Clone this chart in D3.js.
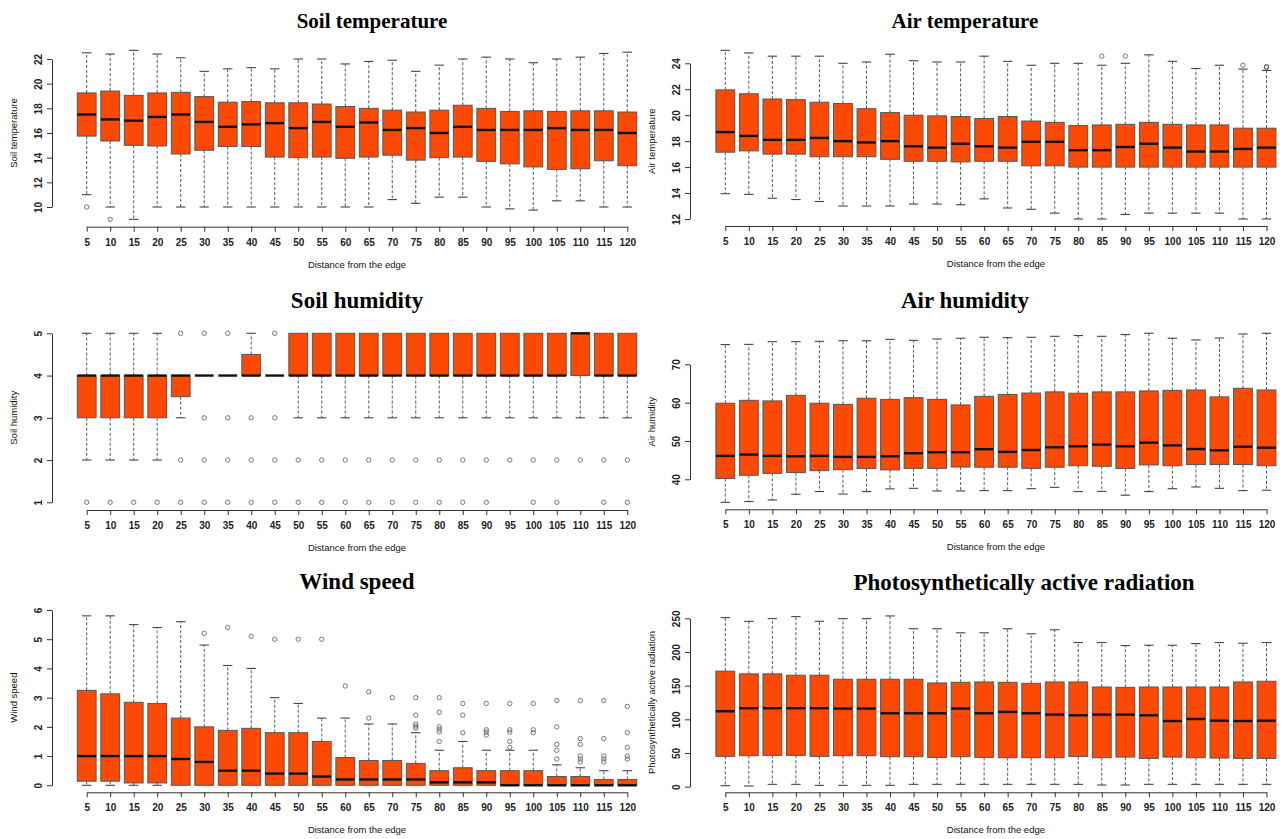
<!DOCTYPE html>
<html>
<head>
<meta charset="utf-8">
<script src="https://cdn.jsdelivr.net/npm/d3@7"></script>
<style>
  html, body { margin: 0; padding: 0; background: #fff; }
  svg { display: block; }
</style>
</head>
<body>
<svg id="chart" width="1282" height="839"></svg>
<script>
// ---------------- DATA ----------------
const categories = [5,10,15,20,25,30,35,40,45,50,55,60,65,70,75,80,85,90,95,100,105,110,115,120];

// each row: [lower whisker, Q1, median, Q3, upper whisker]
const soilTempBoxes = [
  [11.0,15.75,17.5,19.25,22.5],[10,15.35,17.1,19.4,22.4],[9,15.0,17.0,19.05,22.7],[10,14.95,17.3,19.25,22.4],
  [10,14.3,17.5,19.3,22.1],[10,14.6,16.9,18.95,21.0],[10,14.9,16.5,18.5,21.2],[10,14.9,16.7,18.55,21.3],
  [10,14.05,16.8,18.45,21.2],[10,14.0,16.4,18.45,22.0],[10,14.05,16.9,18.35,22.0],[10,13.95,16.5,18.15,21.6],
  [10,14.05,16.85,18.0,21.8],[10.6,14.2,16.25,17.85,21.9],[10.3,13.8,16.4,17.7,21.0],[10.8,14.0,16.0,17.85,21.5],
  [10.8,14.05,16.5,18.25,22.0],[10,13.7,16.25,18.0,22.15],[9.85,13.5,16.25,17.75,22.0],[9.75,13.25,16.25,17.8,21.7],
  [10.5,13.05,16.4,17.75,22.0],[10.5,13.1,16.25,17.8,22.15],[10,13.75,16.25,17.8,22.45],[10,13.35,16.0,17.7,22.55]
];
const soilTempOutliers = [[5,10],[10,9]];
const soilTempTicks = [10,12,14,16,18,20,22];

const airTempBoxes = [
  [13.95,17.15,18.7,21.95,25.0],[13.9,17.25,18.4,21.65,24.8],[13.6,17.0,18.1,21.25,24.55],[13.5,17.0,18.1,21.2,24.55],
  [13.35,16.8,18.25,21.0,24.55],[13.0,16.8,18.0,20.9,24.0],[13.0,16.8,17.9,20.5,24.1],[13.0,16.6,18.0,20.2,24.7],
  [13.15,16.45,17.6,20.0,24.2],[13.15,16.45,17.5,19.95,24.1],[13.1,16.4,17.8,19.9,24.1],[13.55,16.45,17.6,19.75,24.55],
  [12.85,16.45,17.5,19.9,24.15],[12.75,16.1,17.95,19.55,23.85],[12.45,16.1,17.95,19.45,24.0],[12.0,16.0,17.3,19.2,24.0],
  [12.0,16.0,17.3,19.25,23.85],[12.35,16.0,17.55,19.3,24.0],[12.45,16.0,17.8,19.45,24.65],[12.45,16.0,17.5,19.3,24.15],
  [12.45,16.0,17.2,19.25,23.6],[12.45,16.0,17.2,19.25,23.85],[12.0,16.0,17.4,19.0,23.55],[12.0,16.0,17.5,19.0,23.45]
];
const airTempOutliers = [[85,24.55],[90,24.55],[115,23.85],[120,23.75],[120,23.68]];
const airTempTicks = [12,14,16,18,20,22,24];

const soilHumBoxes = [
  [2,3,4,4,5],[2,3,4,4,5],[2,3,4,4,5],[2,3,4,4,5],
  [3,3.5,4,4,4],[4,4,4,4,4],[4,4,4,4,4],[4,4,4,4.5,5],
  [4,4,4,4,4],[3,4,4,5,5],[3,4,4,5,5],[3,4,4,5,5],
  [3,4,4,5,5],[3,4,4,5,5],[3,4,4,5,5],[3,4,4,5,5],
  [3,4,4,5,5],[3,4,4,5,5],[3,4,4,5,5],[3,4,4,5,5],
  [3,4,4,5,5],[3,4,5,5,5],[3,4,4,5,5],[3,4,4,5,5]
];
const soilHumOutliers = [
  [5,1],[10,1],[15,1],[20,1],
  [25,5],[25,2],[25,1],
  [30,5],[30,3],[30,2],[30,1],
  [35,5],[35,3],[35,2],[35,1],
  [40,3],[40,2],[40,1],
  [45,5],[45,3],[45,2],[45,1],
  [50,2],[50,1],[55,2],[55,1],[60,2],[60,1],[65,2],[65,1],[70,2],[70,1],
  [75,2],[75,1],[80,2],[80,1],[85,2],[85,1],[90,2],[90,1],
  [95,2],[100,2],[100,1],[105,2],[105,1],[110,2],[115,2],[115,1],[120,2],[120,1]
];
const soilHumTicks = [1,2,3,4,5];

const airHumBoxes = [
  [34.0,40.2,46.1,59.85,75.15],[34.2,41.05,46.45,60.6,75.2],[34.6,41.55,46.1,60.45,75.9],[36.1,41.75,46.0,61.9,75.9],
  [36.8,42.25,46.1,59.85,76.0],[36.15,42.5,45.85,59.55,76.15],[36.8,42.8,45.85,61.15,76.15],[37.5,42.45,46.0,60.85,76.5],
  [37.65,42.85,46.8,61.3,76.25],[36.95,42.85,47.05,60.85,76.6],[36.95,43.2,47.05,59.4,76.8],[37.05,43.15,47.85,61.65,77.05],
  [37.05,43.15,47.15,62.15,76.95],[37.55,42.85,47.65,62.5,77.05],[37.9,43.15,48.35,62.8,77.3],[36.8,43.55,48.6,62.45,77.5],
  [36.85,43.4,49.05,62.8,77.3],[35.85,42.8,48.6,62.8,77.75],[36.8,43.75,49.55,63.05,78.1],[37.55,43.55,48.85,63.2,76.8],
  [38.0,43.85,47.9,63.3,76.35],[37.65,43.85,47.55,61.5,76.85],[37.05,43.85,48.5,63.75,77.9],[37.15,43.55,48.25,63.3,78.1]
];
const airHumOutliers = [];
const airHumTicks = [40,50,60,70];

const windBoxes = [
  [0,0.14,1.0,3.25,5.8],[0,0.14,1.0,3.13,5.8],[0,0.08,1.0,2.84,5.5],[0,0.08,1.0,2.8,5.4],
  [0,0,0.9,2.3,5.6],[0,0,0.8,2.0,4.8],[0,0,0.5,1.88,4.1],[0,0,0.5,1.95,4.0],
  [0,0,0.4,1.8,3.0],[0,0,0.4,1.8,2.8],[0,0,0.3,1.5,2.3],[0,0,0.2,0.95,2.3],
  [0,0,0.2,0.85,2.1],[0,0,0.2,0.85,2.1],[0,0,0.2,0.75,1.8],[0,0,0.1,0.5,1.2],
  [0,0,0.1,0.6,1.5],[0,0,0.1,0.5,1.2],[0,0,0,0.5,1.2],[0,0,0,0.5,1.2],
  [0,0,0,0.3,0.7],[0,0,0,0.3,0.6],[0,0,0,0.2,0.5],[0,0,0,0.2,0.5]
];
const windOutliers = [
  [30,5.2],[35,5.4],[40,5.1],[45,5.0],[50,5.0],[55,5.0],
  [60,3.4],[65,3.2],[65,2.3],[70,3.0],
  [75,3.0],[75,2.4],[75,2.1],[75,2.03],[75,1.96],
  [80,3.0],[80,2.5],[80,2.0],[80,1.92],[80,1.83],[80,1.5],
  [85,2.8],[85,2.4],[85,1.8],
  [90,2.8],[90,1.9],[90,1.82],[90,1.72],
  [95,2.8],[95,1.9],[95,1.82],[95,1.5],[95,1.3],
  [100,2.8],[100,1.9],[100,1.8],
  [105,2.9],[105,2.0],[105,1.4],[105,1.2],[105,0.9],
  [110,2.9],[110,1.6],[110,1.4],[110,1.0],[110,0.9],[110,0.8],
  [115,2.9],[115,1.6],[115,1.0],[115,0.9],[115,0.8],
  [120,2.7],[120,1.8],[120,1.3],[120,1.0],[120,0.9]
];
const windTicks = [0,1,2,3,4,5,6];

const parBoxes = [
  [1.5,45,112,171.5,251],[1,46,116.5,167.5,245.5],[3.5,46.5,116.5,167.5,249.5],[3.5,46.5,116.5,165.5,252.5],
  [2,45,116.5,165.5,245.5],[2,46,116,159.5,249.5],[2,46,116,159.5,249.5],[2,44.5,109,159.5,253.5],
  [3.5,44.5,109,159.5,234.5],[3.5,43.5,109,154,234.5],[3.5,44.5,116,155,228.5],[3.5,43.5,109,155.5,228.5],
  [3.5,43,111,155,234.5],[3.5,43,109,153.5,227],[3.5,43,107,155.5,233],[3.5,45,106,155.5,214],
  [2.5,43,107,148,214],[2.5,44,107,147.5,209.5],[3.5,42,106,148,210],[3.5,44,97.5,148,210],
  [3.5,43,100.5,148,212.5],[3.5,42.5,98,148,214],[3.5,42,97.5,155.5,213],[3.5,42,98,156.5,214]
];
const parOutliers = [];
const parTicks = [0,50,100,150,200,250];

// ---------------- LAYOUT (positions only) ----------------
const panels = [
  {title:"Soil temperature", ylab:"Soil temperature", boxes:soilTempBoxes, outliers:soilTempOutliers, ticks:soilTempTicks,
   axisX:52, x0:86.7, x1:627.3, yTopPx:59, yBotPx:207, xAxisY:226.7, titleX:372, titleY:28, titleSize:21, ylabX:17},
  {title:"Air temperature", ylab:"Air temperature", boxes:airTempBoxes, outliers:airTempOutliers, ticks:airTempTicks,
   axisX:690, x0:725.3, x1:1266.5, yTopPx:63.3, yBotPx:219, xAxisY:226, titleX:965, titleY:28, titleSize:21, ylabX:655},
  {title:"Soil humidity", ylab:"Soil humidity", boxes:soilHumBoxes, outliers:soilHumOutliers, ticks:soilHumTicks,
   axisX:52, x0:86.7, x1:627.3, yTopPx:333.3, yBotPx:502.3, xAxisY:510, titleX:357, titleY:308, titleSize:23, ylabX:17},
  {title:"Air humidity", ylab:"Air humidity", boxes:airHumBoxes, outliers:airHumOutliers, ticks:airHumTicks,
   axisX:690, x0:725.3, x1:1266.5, yTopPx:364.3, yBotPx:479.3, xAxisY:509.3, titleX:965, titleY:308, titleSize:23, ylabX:655},
  {title:"Wind speed", ylab:"Wind speed", boxes:windBoxes, outliers:windOutliers, ticks:windTicks,
   axisX:52, x0:86.7, x1:627.3, yTopPx:610, yBotPx:785.3, xAxisY:792.3, titleX:357, titleY:589, titleSize:23, ylabX:17},
  {title:"Photosynthetically active radiation", ylab:"Photosynthetically active radiation", boxes:parBoxes, outliers:parOutliers, ticks:parTicks,
   axisX:690, x0:725.3, x1:1266.5, yTopPx:618.3, yBotPx:786.7, xAxisY:792.3, titleX:1024, titleY:590, titleSize:23, ylabX:655}
];

const FILL = "#fc4a05", BORDER = "#555", MED = "#111", WHISK = "#444";
const svg = d3.select("#chart");
svg.append("rect").attr("width",1282).attr("height",839).attr("fill","#fff");

panels.forEach(p => {
  const g = svg.append("g");
  const x = d3.scalePoint().domain(categories).range([p.x0, p.x1]);
  const step = x.step();
  const bw = step * 0.8;
  const y = d3.scaleLinear()
    .domain([d3.min(p.ticks), d3.max(p.ticks)])
    .range([p.yBotPx, p.yTopPx]);

  // title
  g.append("text").attr("x", p.titleX).attr("y", p.titleY)
    .attr("text-anchor","middle")
    .style("font-family","'Liberation Serif','Times New Roman',serif")
    .style("font-weight","bold").style("font-size",p.titleSize+"px").style("fill","#000")
    .text(p.title);

  // y axis
  const ya = g.append("g").attr("transform",`translate(${p.axisX},0)`)
    .call(d3.axisLeft(y).tickValues(p.ticks).tickSize(5).tickSizeOuter(0).tickFormat(d3.format("d")));
  ya.select(".domain").attr("stroke","#333");
  ya.selectAll(".tick line").attr("stroke","#333");
  ya.selectAll(".tick text")
    .attr("x",null).attr("dy",null).attr("y",null)
    .attr("transform","translate(-10,0) rotate(-90)")
    .attr("text-anchor","middle")
    .style("font-family","'Liberation Sans',Arial,sans-serif").style("font-size","10px").style("font-weight","bold").attr("fill","#222");

  // x axis
  const xa = g.append("g").attr("transform",`translate(0,${p.xAxisY})`)
    .call(d3.axisBottom(x).tickSize(5).tickSizeOuter(0));
  xa.select(".domain").attr("stroke","#333");
  xa.selectAll(".tick line").attr("stroke","#333");
  xa.selectAll(".tick text").attr("y",12)
    .style("font-family","'Liberation Sans',Arial,sans-serif").style("font-size","10px").style("font-weight","bold").attr("fill","#222");

  // axis labels
  g.append("text").attr("x",(p.x0+p.x1)/2).attr("y",p.xAxisY+41)
    .attr("text-anchor","middle")
    .style("font-family","'Liberation Sans',Arial,sans-serif").style("font-size","9.5px").attr("fill","#111")
    .text("Distance from the edge");
  g.append("text")
    .attr("transform",`translate(${p.ylabX},${(p.yTopPx+p.yBotPx)/2}) rotate(-90)`)
    .attr("text-anchor","middle")
    .style("font-family","'Liberation Sans',Arial,sans-serif").style("font-size","9.5px").attr("fill","#111")
    .text(p.ylab);

  // boxes
  const rows = categories.map((c,i) => ({c, lo:p.boxes[i][0], q1:p.boxes[i][1], med:p.boxes[i][2], q3:p.boxes[i][3], hi:p.boxes[i][4]}));
  const bg = g.selectAll("g.box").data(rows).enter().append("g").attr("class","box");
  // whiskers (dashed)
  bg.append("line").attr("x1",d=>x(d.c)).attr("x2",d=>x(d.c))
    .attr("y1",d=>y(d.q3)).attr("y2",d=>y(d.hi))
    .attr("stroke",WHISK).attr("stroke-width",0.9).attr("stroke-dasharray","3,2");
  bg.append("line").attr("x1",d=>x(d.c)).attr("x2",d=>x(d.c))
    .attr("y1",d=>y(d.q1)).attr("y2",d=>y(d.lo))
    .attr("stroke",WHISK).attr("stroke-width",0.9).attr("stroke-dasharray","3,2");
  // caps
  bg.filter(d=>d.hi>d.q3).append("line").attr("x1",d=>x(d.c)-bw/4).attr("x2",d=>x(d.c)+bw/4)
    .attr("y1",d=>y(d.hi)).attr("y2",d=>y(d.hi)).attr("stroke",WHISK).attr("stroke-width",1.1);
  bg.filter(d=>d.lo<d.q1).append("line").attr("x1",d=>x(d.c)-bw/4).attr("x2",d=>x(d.c)+bw/4)
    .attr("y1",d=>y(d.lo)).attr("y2",d=>y(d.lo)).attr("stroke",WHISK).attr("stroke-width",1.1);
  // box
  bg.append("rect").attr("x",d=>x(d.c)-bw/2).attr("width",bw)
    .attr("y",d=>y(d.q3)).attr("height",d=>Math.max(0,y(d.q1)-y(d.q3)))
    .attr("fill",FILL).attr("stroke",BORDER).attr("stroke-width",1);
  // median
  bg.append("line").attr("x1",d=>x(d.c)-bw/2).attr("x2",d=>x(d.c)+bw/2)
    .attr("y1",d=>y(d.med)).attr("y2",d=>y(d.med))
    .attr("stroke",MED).attr("stroke-width",2.4);

  // outliers
  g.selectAll("circle.out").data(p.outliers).enter().append("circle").attr("class","out")
    .attr("cx",d=>x(d[0])).attr("cy",d=>y(d[1])).attr("r",2.2)
    .attr("fill","none").attr("stroke","#555").attr("stroke-width",0.8);
});
</script>
</body>
</html>
